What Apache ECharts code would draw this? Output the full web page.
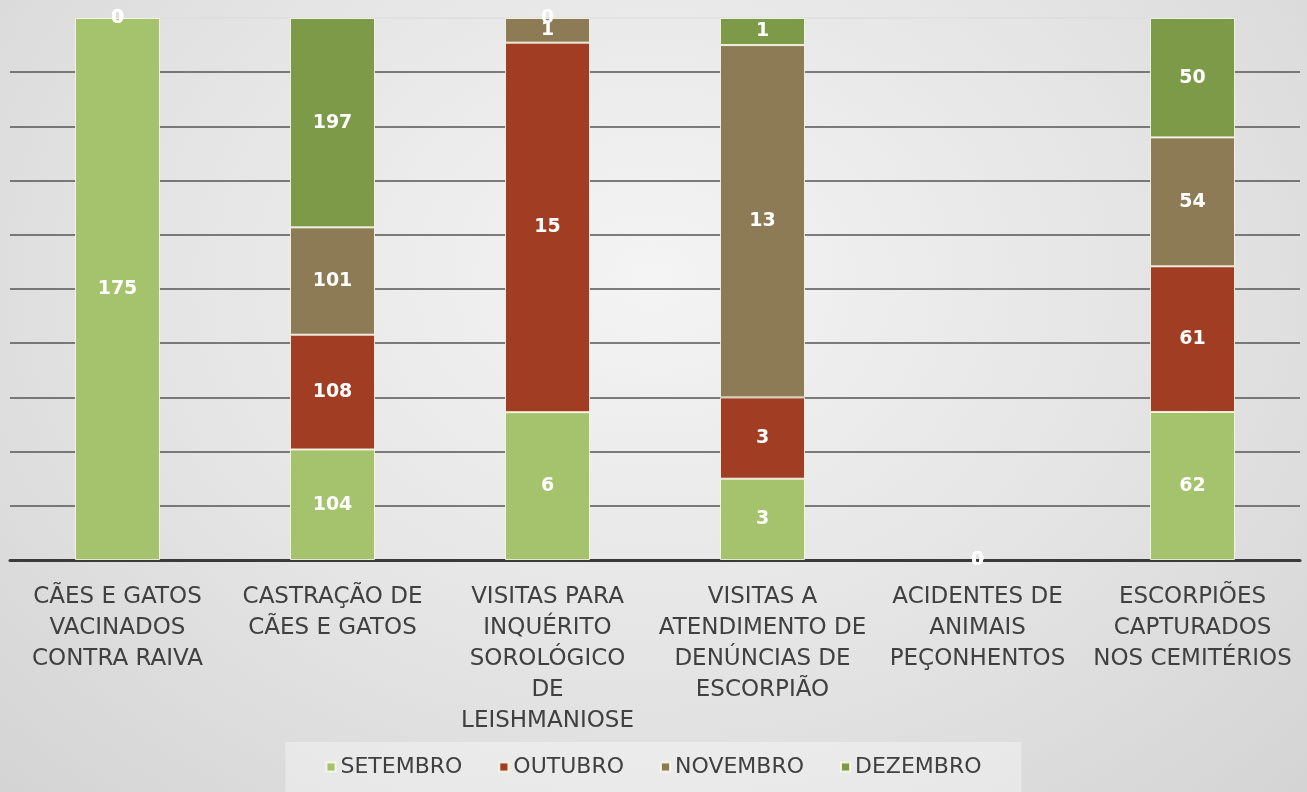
<!DOCTYPE html>
<html>
<head>
<meta charset="utf-8">
<script src="https://cdn.jsdelivr.net/npm/echarts@6/dist/echarts.min.js"></script>
<style>
  html, body { margin: 0; padding: 0; }
  body {
    width: 1307px; height: 792px; overflow: hidden;
    background: radial-gradient(ellipse at 50% 35%, #f4f4f4 0%, #e4e4e4 55%, #d4d4d4 100%);
  }
  #chart { width: 1307px; height: 792px; }
</style>
</head>
<body>
<div id="chart"></div>
<script>
// categorias (eixo x)
const categorias = [
  "CÃES E GATOS\nVACINADOS\nCONTRA RAIVA",
  "CASTRAÇÃO DE\nCÃES E GATOS",
  "VISITAS PARA\nINQUÉRITO\nSOROLÓGICO\nDE\nLEISHMANIOSE",
  "VISITAS A\nATENDIMENTO DE\nDENÚNCIAS DE\nESCORPIÃO",
  "ACIDENTES DE\nANIMAIS\nPEÇONHENTOS",
  "ESCORPIÕES\nCAPTURADOS\nNOS CEMITÉRIOS"
];

// valores por mês
const setembro = [175, 104, 6, 3, 0, 62];
const outubro  = [0, 108, 15, 3, 0, 61];
const novembro = [0, 101, 1, 13, 0, 54];
const dezembro = [0, 197, 0, 1, 0, 50];

const meses = ["SETEMBRO", "OUTUBRO", "NOVEMBRO", "DEZEMBRO"];
const cores = ["#a5c26c", "#a03d22", "#8d7b56", "#7d9a49"];
const valores = [setembro, outubro, novembro, dezembro];

// totais para empilhamento 100%
const totais = categorias.map((c, i) => valores.reduce((s, v) => s + v[i], 0));

const series = valores.map((v, k) => ({
  name: meses[k],
  type: "bar",
  stack: "total",
  barWidth: 85,
  data: v.map((x, i) => ({
    value: totais[i] ? x / totais[i] * 100 : 0,
    raw: x,
    itemStyle: x === 0 ? { borderWidth: 0 } : undefined
  })),
  itemStyle: { color: cores[k], borderColor: "rgba(250,250,235,0.85)", borderWidth: 1 },
  label: {
    show: true,
    position: "inside",
    color: "#ffffff",
    fontFamily: "DejaVu Sans",
    fontWeight: "bold",
    fontSize: 19,
    formatter: p => p.data.raw
  }
}));

const chart = echarts.init(document.getElementById("chart"));
chart.setOption({
  backgroundColor: "transparent",
  animation: false,
  grid: { left: 10, right: 7, top: 18, bottom: 232, containLabel: false },
  legend: {
    bottom: 0,
    left: "center",
    itemWidth: 9,
    itemHeight: 9,
    itemGap: 36,
    icon: "rect",
    padding: [14, 40, 14, 40],
    backgroundColor: "rgba(255,255,255,0.35)",
    textStyle: { color: "#404040", fontFamily: "DejaVu Sans", fontSize: 22 },
    data: meses
  },
  xAxis: {
    type: "category",
    data: categorias,
    axisTick: { show: false },
    axisLine: { lineStyle: { color: "#3a3a3a", width: 3 } },
    axisLabel: {
      interval: 0,
      margin: 22,
      color: "#404040",
      fontFamily: "DejaVu Sans",
      fontSize: 23,
      lineHeight: 31
    }
  },
  yAxis: {
    type: "value",
    min: 0,
    max: 100,
    interval: 10,
    axisLabel: { show: false },
    axisLine: { show: false },
    axisTick: { show: false },
    splitLine: {
      lineStyle: {
        color: ["#555", "#555", "#555", "#555", "#555", "#555", "#555", "#555", "#555", "#555", "#dedede"],
        width: 1.5
      }
    }
  },
  series: series
});
</script>
</body>
</html>
